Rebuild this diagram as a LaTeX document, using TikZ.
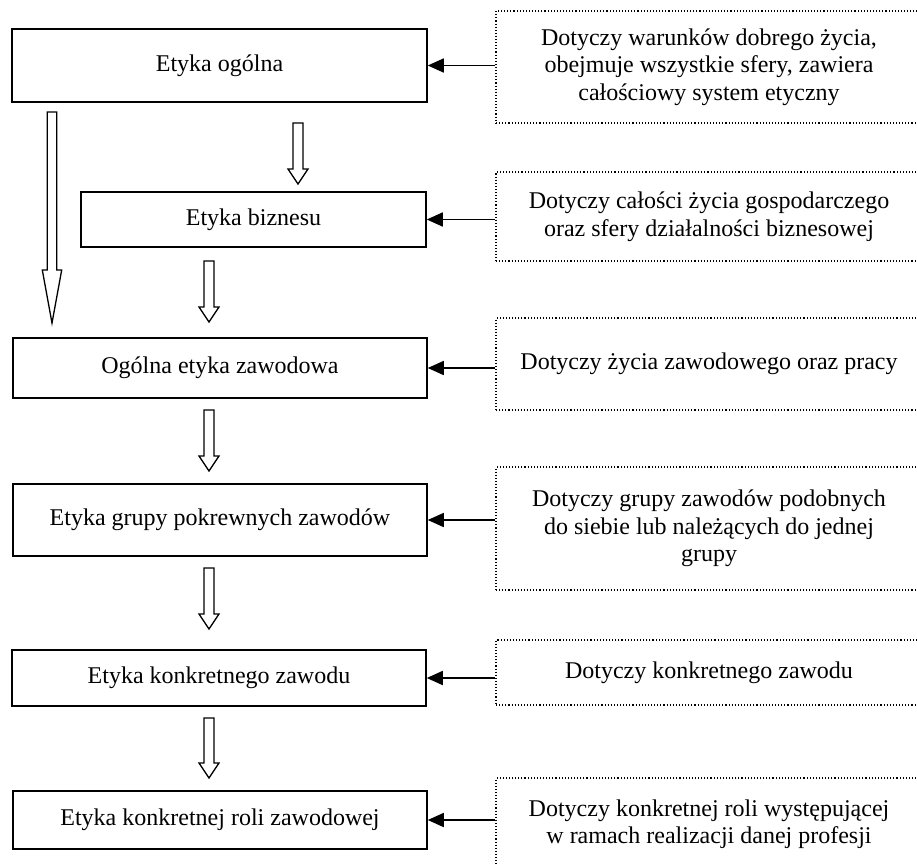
\documentclass[tikz,border=0pt]{standalone}
\usepackage{fontspec}
\setmainfont{Liberation Serif}
\usetikzlibrary{arrows.meta,calc}
\newcommand\hollowarrow[5]{% #1 start, #2 tip, #3 head length, #4 head half width, #5 shaft half width
  \draw[hollow] let \p1=(#1),\p2=(#2) in
    (\x1-#5,\y1) -- (\x1+#5,\y1) -- (\x1+#5,\y2+#3) -- (\x1+#4,\y2+#3) -- (\x2,\y2)
    -- (\x1-#4,\y2+#3) -- (\x1-#5,\y2+#3) -- cycle;}
\begin{document}
\begin{tikzpicture}[x=1pt,y=-1pt,
  ebox/.style={draw,line width=1.5pt,inner sep=0pt,font=\fontsize{24}{27.5}\selectfont},
  dbox/.style={draw,dotted,line width=1.1pt,inner sep=0pt,align=center,minimum width=426pt,font=\fontsize{24}{27.5}\selectfont},
  link/.style={line width=1.6pt,-{Triangle[length=16pt,width=14pt]}},
  hollow/.style={line width=1.3pt,fill=white,line join=miter}]
\useasboundingbox (0,0) rectangle (917,863);
\clip (0,0) rectangle (917,863);

% left boxes
\node[ebox,minimum width=415pt,minimum height=73pt] (b1) at (219.5,65.5) {Etyka ogólna};
\node[ebox,minimum width=345pt,minimum height=55pt] (b2) at (253.5,219.5) {Etyka biznesu};
\node[ebox,minimum width=414pt,minimum height=60pt] (b3) at (220,368) {Ogólna etyka zawodowa};
\node[ebox,minimum width=414pt,minimum height=72pt] (b4) at (220,520) {Etyka grupy pokrewnych zawodów};
\node[ebox,minimum width=414pt,minimum height=56pt] (b5) at (219,678) {Etyka konkretnego zawodu};
\node[ebox,minimum width=414pt,minimum height=58pt] (b6) at (220,820) {Etyka konkretnej roli zawodowej};

% right dotted boxes (right edge runs past the picture edge)
\node[dbox,minimum height=112pt] (d1) at (709,67) {Dotyczy warunków dobrego życia,\\obejmuje wszystkie sfery, zawiera\\całościowy system etyczny};
\node[dbox,minimum height=89pt] (d2) at (709,216.5) {Dotyczy całości życia gospodarczego\\oraz sfery działalności biznesowej};
\node[dbox,minimum height=92pt] (d3) at (709,364) {Dotyczy życia zawodowego oraz pracy};
\node[dbox,minimum height=123pt] (d4) at (709,528.5) {Dotyczy grupy zawodów podobnych\\do siebie lub należących do jednej\\grupy};
\node[dbox,minimum height=65pt] (d5) at (709,672.5) {Dotyczy konkretnego zawodu};
\node[dbox,minimum height=92pt] (d6) at (709,824) {Dotyczy konkretnej roli występującej\\w ramach realizacji danej profesji};

% links
\foreach \i in {1,...,6} {
  \draw[link] (b\i.east -| d\i.west) -- (b\i.east);
}

% hollow arrows
\coordinate (h0s) at (52,112);  \coordinate (h0e) at (52,323);
\coordinate (h1s) at (298,123); \coordinate (h1e) at (298,184);
\coordinate (h2s) at (209,261); \coordinate (h2e) at (209,322);
\coordinate (h3s) at (209,410); \coordinate (h3e) at (209,471);
\coordinate (h4s) at (209,568); \coordinate (h4e) at (209,629);
\coordinate (h5s) at (209,718); \coordinate (h5e) at (209,778);
\hollowarrow{h0s}{h0e}{53pt}{9.7pt}{4.7pt}
\foreach \i in {1,...,5} {
  \hollowarrow{h\i s}{h\i e}{15pt}{10pt}{5pt}
}
\end{tikzpicture}
\end{document}
